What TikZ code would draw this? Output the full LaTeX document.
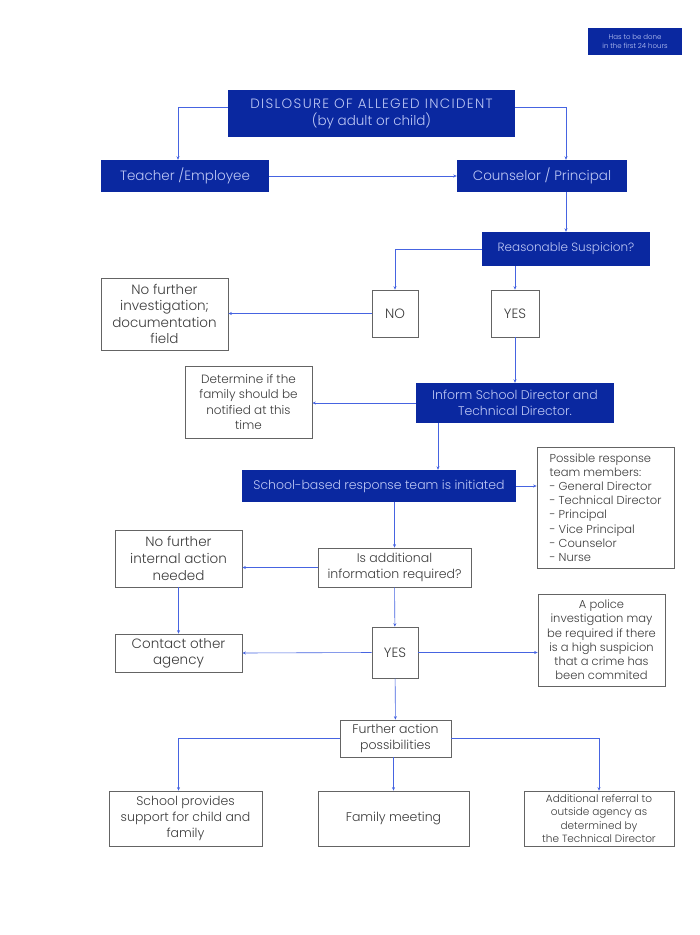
\documentclass[tikz,border=0pt]{standalone}
\usepackage{fontspec}
\IfFontExistsTF{Poppins Light}{\setmainfont{Poppins Light}}{\setmainfont{Poppins}}
\usetikzlibrary{arrows.meta}
\definecolor{dkblue}{RGB}{10,40,160}
\definecolor{ltblue}{RGB}{190,200,245}
\definecolor{arrowblue}{RGB}{70,100,225}
\definecolor{boxgray}{RGB}{100,100,100}
\definecolor{txtgray}{RGB}{60,60,60}
\newcommand{\fs}[2]{\fontsize{#1}{#2}\selectfont}

\begin{document}
\begin{tikzpicture}[x=1pt, y=-1pt]
        \tikzstyle{blue}=[rectangle, fill=dkblue, draw=none, text=ltblue, inner sep=2pt, align=center]
        \tikzstyle{grey}=[rectangle, fill=white, draw=boxgray, line width=0.7pt, text=txtgray, inner sep=2pt, align=center]
        \tikzstyle{edge}=[arrowblue, line width=0.6pt, -{Stealth[length=3.5pt, width=3pt]}]

        \useasboundingbox[fill=white] (0,0) rectangle (700,935);

        \node[blue, minimum width=94pt, minimum height=27pt, font=\fs{7}{9}] (note) at (635,41.5) {Has to be done\\ in the first 24 hours};

        \node[blue, minimum width=287pt, minimum height=47pt, font=\fs{13.5}{17}] (dis) at (371.5,113.5) {{\addfontfeature{LetterSpace=10}DISLOSURE OF ALLEGED INCIDENT}\\ (by adult or child)};
        \node[blue, minimum width=168pt, minimum height=32pt, font=\fs{13.5}{16}] (teach) at (185,176) {Teacher /Employee};
        \node[blue, minimum width=170pt, minimum height=32pt, font=\fs{13.5}{16}] (couns) at (542,176) {Counselor / Principal};
        \node[blue, minimum width=168pt, minimum height=34pt, font=\fs{12}{15}] (rs) at (566,249) {Reasonable Suspicion?};

        \node[grey, minimum width=46pt, minimum height=47pt, font=\fs{13.5}{16}] (no) at (395,313.5) {NO};
        \node[grey, minimum width=48pt, minimum height=47pt, font=\fs{13.5}{16}] (yes) at (515,313.5) {YES};
        \node[grey, minimum width=127pt, minimum height=72pt, font=\fs{13.5}{16.5}] (nofurther) at (164.5,314) {No further\\ investigation;\\ documentation\\ field};

        \node[blue, minimum width=198pt, minimum height=40pt, font=\fs{12.5}{16}] (inform) at (515,403) {Inform School Director and\\ Technical Director.};
        \node[grey, minimum width=127pt, minimum height=72pt, font=\fs{12}{15.5}] (determine) at (248.5,402) {Determine if the\\ family should be\\ notified at this\\ time};

        \node[blue, minimum width=274pt, minimum height=32pt, font=\fs{12.5}{16}] (school) at (379,486) {School-based response team is initiated};
        \node[grey, minimum width=137pt, minimum height=121pt, font=\fs{11.5}{14.2}, align=left] (possible) at (605.5,507.5) {Possible response\\ team members:\\ - General Director\\ - Technical Director\\ - Principal\\ - Vice Principal\\ - Counselor\\ - Nurse};

        \node[grey, minimum width=153pt, minimum height=39pt, font=\fs{12.5}{16}] (isadd) at (394.5,567.5) {Is additional\\ information required?};
        \node[grey, minimum width=127pt, minimum height=57pt, font=\fs{13.5}{17}] (nointernal) at (178.5,558.5) {No further\\ internal action\\ needed};
        \node[grey, minimum width=127pt, minimum height=38pt, font=\fs{13.5}{16}] (contact) at (178.5,653) {Contact other\\ agency};
        \node[grey, minimum width=46pt, minimum height=51pt, font=\fs{13.5}{16}] (yes2) at (395,652.5) {YES};
        \node[grey, minimum width=127pt, minimum height=92pt, font=\fs{11.5}{14.2}] (police) at (601.5,640) {A police\\ investigation may\\ be required if there\\ is a high suspicion\\ that a crime has\\ been commited};

        \node[grey, minimum width=111pt, minimum height=37pt, font=\fs{12.5}{16}] (further) at (395.5,738.5) {Further action\\ possibilities};
        \node[grey, minimum width=153pt, minimum height=55pt, font=\fs{12.5}{16}] (support) at (185.5,818.5) {School provides\\ support for child and\\ family};
        \node[grey, minimum width=151pt, minimum height=55pt, font=\fs{12.5}{16}] (family) at (393.5,818.5) {Family meeting};
        \node[grey, minimum width=150pt, minimum height=55pt, font=\fs{10.5}{13.5}] (referral) at (599,818.5) {Additional referral to\\ outside agency as\\ determined by\\ the Technical Director};

        % top part
        \draw[edge] ([yshift=6pt]dis.west) -| ([xshift=-7pt]teach.north);
        \draw[edge] ([yshift=6pt]dis.east) -| ([xshift=24pt]couns.north);
        \draw[edge] (teach) -- (couns);
        \draw[edge] ([xshift=24pt]couns.south) -- (rs.north);
        \draw[edge] (rs.west) -| (no.north);
        \draw[edge] (rs.south -| yes.north) -- (yes.north);
        \draw[edge] (no.west) -- (no.west -| nofurther.east);
        \draw[edge] (yes.south) -- (inform.north);
        \draw[edge] (inform.west) -- (inform.west -| determine.east);
        \draw[edge] ([xshift=-77pt]inform.south) -- ([xshift=59pt]school.north);
        \draw[edge] (school.east) -- (school.east -| possible.west);

        % lower part
        \draw[edge] (school.south -| isadd.north) -- (isadd.north);
        \draw[edge] (isadd.west) -- (isadd.west -| nointernal.east);
        \draw[edge] (nointernal) -- (contact);
        \draw[edge] (isadd) -- (yes2);
        \draw[edge] (yes2.west) -- (contact.east);
        \draw[edge] (yes2.east) -- (yes2.east -| police.west);
        \draw[edge] (yes2) -- (further);
        \draw[edge] (further.west) -| ([xshift=-7pt]support.north);
        \draw[edge] (further.south -| family.north) -- (family.north);
        \draw[edge] (further.east) -| (referral.north);
\end{tikzpicture}
\end{document}
